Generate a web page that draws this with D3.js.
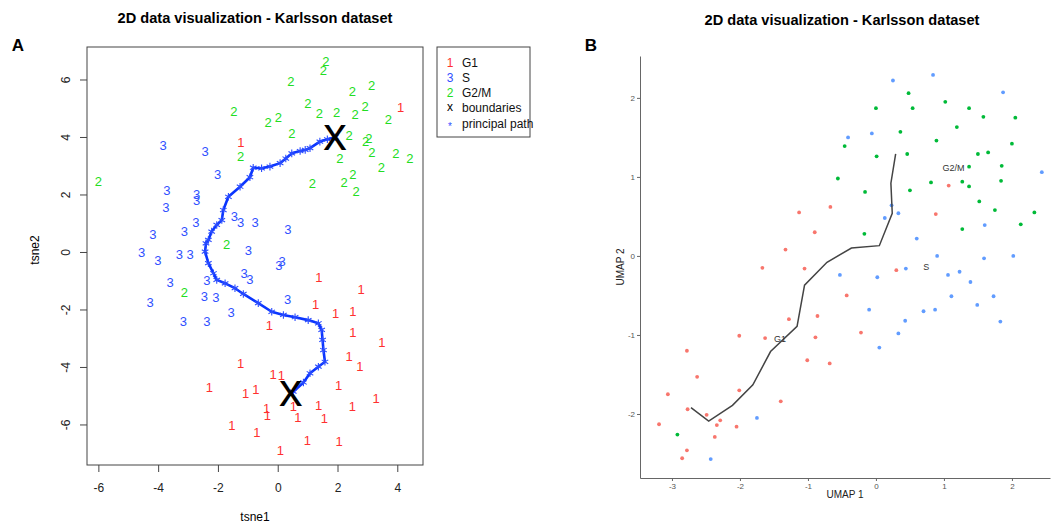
<!DOCTYPE html>
<html>
<head>
<meta charset="utf-8">
<script src="https://cdn.jsdelivr.net/npm/d3@7.9.0/dist/d3.min.js"></script>
<style>
  body { margin: 0; background: #fff; }
  svg { display: block; font-family: "Liberation Sans", Arial, sans-serif; }
</style>
</head>
<body>
<svg id="chart" width="1052" height="525"></svg>
<script>
// ---- panel A : t-SNE, labels are the cell-cycle phase codes ----
const tsneG1 = [
  [4.11, 5.03], [-1.23, 3.82], [1.38, -0.89], [2.79, -1.30], [1.27, -1.82], [1.94, -2.13],
  [2.51, -2.08], [-0.28, -2.54], [2.51, -2.79], [3.48, -3.14], [2.39, -3.64], [2.75, -3.99],
  [-1.24, -3.87], [-0.15, -4.24], [0.12, -4.30], [-2.29, -4.72], [-1.07, -4.92], [-0.73, -4.78],
  [2.04, -4.65], [3.29, -5.09], [-0.37, -5.44], [-0.35, -5.67], [0.52, -5.38], [1.37, -5.35],
  [2.50, -5.36], [0.67, -5.75], [1.56, -5.79], [-1.53, -6.02], [-0.70, -6.27], [0.99, -6.54],
  [2.05, -6.57], [0.09, -6.89]
];
const tsneS = [
  [-3.83, 3.72], [-2.43, 3.49], [-2.01, 2.71], [-3.71, 2.13], [-2.71, 2.02], [-2.71, 1.78],
  [-3.74, 1.55], [-2.74, 1.02], [-1.45, 1.23], [-1.24, 1.02], [-0.76, 1.02], [0.34, 0.79],
  [-3.12, 0.72], [-4.18, 0.63], [-4.55, -0.01], [-4.01, -0.30], [-3.29, -0.08], [-2.93, -0.08],
  [-0.98, 0.07], [0.04, -0.45], [0.15, -0.31], [-3.60, -1.07], [-2.37, -0.97], [-1.12, -0.74],
  [-0.93, -0.95], [-4.27, -1.75], [-2.45, -1.55], [-2.07, -1.59], [-1.56, -2.11], [0.33, -1.63],
  [-3.16, -2.40], [-2.37, -2.40]
];
const tsneG2M = [
  [1.61, 6.62], [1.53, 6.33], [0.44, 5.92], [3.14, 5.78], [2.50, 5.58], [1.01, 5.17],
  [1.39, 4.82], [1.97, 4.85], [2.59, 4.79], [2.92, 5.05], [3.70, 4.63], [-1.47, 4.88],
  [-0.32, 4.51], [0.02, 4.67], [0.47, 4.13], [2.39, 4.05], [2.94, 3.86], [3.05, 3.95],
  [3.15, 3.45], [3.95, 3.43], [4.42, 3.26], [2.08, 3.26], [3.47, 2.93], [2.51, 2.70],
  [2.22, 2.41], [2.62, 2.10], [1.16, 2.39], [-1.24, 3.31], [-6.00, 2.45], [-1.71, 0.28],
  [-3.12, -1.40]
];
const tsneBoundaries = [[1.92, 3.95], [0.44, -4.94]];
const tsnePath = [
  [1.92, 3.99], [1.66, 3.92], [1.41, 3.84], [1.08, 3.61], [0.92, 3.55], [0.75, 3.51],
  [0.47, 3.43], [0.27, 3.25], [0.08, 3.09], [-0.26, 2.97], [-0.54, 2.91], [-0.82, 2.93],
  [-0.93, 2.60], [-1.26, 2.27], [-1.65, 1.92], [-1.82, 1.46], [-1.87, 1.11], [-2.04, 0.94],
  [-2.21, 0.71], [-2.32, 0.42], [-2.40, 0.30], [-2.43, 0.01], [-2.32, -0.39], [-2.15, -0.74],
  [-2.04, -0.97], [-1.76, -1.09], [-1.43, -1.26], [-1.15, -1.46], [-0.65, -1.78], [-0.20, -2.08],
  [0.19, -2.19], [0.58, -2.27], [1.02, -2.37], [1.36, -2.48], [1.47, -2.71], [1.50, -3.06],
  [1.53, -3.41], [1.58, -3.82], [1.36, -3.99], [1.08, -4.22], [0.86, -4.54], [0.52, -4.86]
];
const tsneXTicks = [-6, -4, -2, 0, 2, 4];
const tsneYTicks = [-6, -4, -2, 0, 2, 4, 6];
const legendItems = [
  { sym: '1', label: 'G1', color: '#ff3030' },
  { sym: '3', label: 'S', color: '#3050ff' },
  { sym: '2', label: 'G2/M', color: '#22dd22' },
  { sym: 'x', label: 'boundaries', color: '#000' },
  { sym: '*', label: 'principal path', color: '#3050ff' }
];

// ---- panel B : UMAP ----
const umapG1 = [
  [-0.67, 0.62], [-1.13, 0.55], [-0.90, 0.30], [-1.33, 0.08], [-1.67, -0.15], [-1.05, -0.16],
  [1.07, 0.89], [0.88, 0.53], [0.30, -0.18], [-0.43, -0.50], [-0.22, -0.97], [-0.68, -1.36],
  [-1.28, -0.80], [-0.86, -0.76], [-2.01, -1.01], [-1.63, -1.04], [-0.89, -1.03], [-2.78, -1.20],
  [-1.01, -1.32], [-2.63, -1.53], [-2.01, -1.70], [-3.06, -1.75], [-1.40, -1.84], [-2.77, -1.94],
  [-2.49, -2.01], [-3.19, -2.13], [-2.29, -2.08], [-2.34, -2.14], [-2.05, -2.16], [-2.37, -2.29],
  [-2.78, -2.46], [-2.85, -2.56]
];
const umapS = [
  [0.25, 2.22], [0.84, 2.29], [1.87, 2.07], [-0.41, 1.50], [-0.06, 1.55], [2.44, 1.06],
  [0.23, 0.64], [0.33, 0.54], [0.13, 0.48], [1.60, 0.39], [0.60, 0.22], [0.90, 0.00],
  [1.59, -0.03], [2.02, 0.00], [0.44, -0.16], [-0.53, -0.24], [0.02, -0.27], [1.06, -0.24],
  [1.23, -0.20], [1.39, -0.33], [1.11, -0.51], [1.73, -0.51], [-0.10, -0.68], [0.70, -0.70],
  [0.87, -0.68], [1.49, -0.62], [0.43, -0.82], [1.83, -0.83], [0.33, -0.98], [0.05, -1.16],
  [-1.75, -2.05], [-2.43, -2.57]
];
const umapG2M = [
  [0.48, 2.06], [1.02, 1.95], [0.00, 1.87], [0.54, 1.87], [1.37, 1.87], [1.58, 1.76],
  [2.05, 1.75], [1.19, 1.63], [0.36, 1.57], [0.89, 1.46], [2.00, 1.42], [-0.46, 1.39],
  [0.01, 1.26], [0.46, 1.29], [1.50, 1.29], [1.65, 1.31], [1.37, 1.13], [1.85, 1.14],
  [-0.56, 0.98], [0.81, 0.93], [1.27, 0.94], [1.37, 0.88], [1.84, 0.95], [-0.16, 0.81],
  [0.50, 0.83], [1.52, 0.69], [1.75, 0.58], [2.33, 0.55], [2.13, 0.40], [1.27, 0.34],
  [-0.17, 0.28], [-2.92, -2.26]
];
const umapPath = [
  [-2.72, -1.92], [-2.46, -2.09], [-2.11, -1.89], [-1.81, -1.63], [-1.55, -1.21], [-1.16, -0.89],
  [-1.05, -0.37], [-0.72, -0.08], [-0.36, 0.10], [0.05, 0.13], [0.24, 0.54], [0.22, 0.92],
  [0.29, 1.29]
];
const umapLabels = [
  { text: 'G1', x: -1.41, y: -1.05 },
  { text: 'S', x: 0.74, y: -0.14 },
  { text: 'G2/M', x: 1.14, y: 1.11 }
];
const umapXTicks = [-3, -2, -1, 0, 1, 2];
const umapYTicks = [-2, -1, 0, 1, 2];
const umapColors = { G1: '#F8766D', S: '#619CFF', G2M: '#00BA38' };

const svg = d3.select('#chart');
const title = '2D data visualization - Karlsson dataset';
const plainNum = d => String(d); // hyphen minus, like R

function renderPanelA() {
  const left = 87, right = 423, top = 47, bottom = 465;
  const x = d3.scaleLinear().domain([-6.38, 4.86]).range([left, right]);
  const y = d3.scaleLinear().domain([-7.41, 7.13]).range([bottom, top]);

  svg.append('text').attr('x', 255).attr('y', 22.5).attr('text-anchor', 'middle')
    .style('font-size', '14.6px').style('font-weight', 'bold').text(title);
  svg.append('text').attr('x', 18).attr('y', 51).attr('text-anchor', 'middle')
    .style('font-size', '17px').style('font-weight', 'bold').text('A');

  const gx = svg.append('g')
    .attr('transform', `translate(0,${bottom})`)
    .call(d3.axisBottom(x).tickValues(tsneXTicks).tickFormat(plainNum)
      .tickSize(7).tickPadding(11).tickSizeOuter(0));
  gx.select('.domain').remove();
  gx.selectAll('text').style('font-size', '12px').attr('fill', '#222');
  gx.selectAll('line').attr('stroke', '#444');

  const gy = svg.append('g')
    .attr('transform', `translate(${left},0)`)
    .call(d3.axisLeft(y).tickValues(tsneYTicks).tickFormat(plainNum).tickSize(7).tickSizeOuter(0));
  gy.select('.domain').remove();
  gy.selectAll('line').attr('stroke', '#444');
  gy.selectAll('text')
    .attr('x', 0).attr('dy', '0.35em')
    .attr('text-anchor', 'middle')
    .attr('transform', 'translate(-21,0) rotate(-90)')
    .style('font-size', '12px').attr('fill', '#222');

  svg.append('rect')
    .attr('x', left).attr('y', top)
    .attr('width', right - left).attr('height', bottom - top)
    .attr('fill', 'none').attr('stroke', '#444');

  svg.append('text').attr('x', 255).attr('y', 521).attr('text-anchor', 'middle')
    .style('font-size', '12px').text('tsne1');
  svg.append('text').attr('transform', 'translate(39,250) rotate(-90)')
    .attr('text-anchor', 'middle').style('font-size', '12px').text('tsne2');

  const groups = [
    { data: tsneG1, sym: '1', color: legendItems[0].color },
    { data: tsneS, sym: '3', color: legendItems[1].color },
    { data: tsneG2M, sym: '2', color: legendItems[2].color }
  ];
  groups.forEach(g => {
    svg.append('g').selectAll('text')
      .data(g.data)
      .join('text')
      .attr('x', d => x(d[0]))
      .attr('y', d => y(d[1]))
      .attr('dy', '0.36em')
      .attr('text-anchor', 'middle')
      .attr('fill', g.color)
      .style('font-size', '13px')
      .text(g.sym);
  });

  const line = d3.line().x(d => x(d[0])).y(d => y(d[1]));
  svg.append('path')
    .datum(tsnePath)
    .attr('d', line)
    .attr('fill', 'none')
    .attr('stroke', '#0a35ff')
    .attr('stroke-width', 2.6)
    .attr('stroke-linejoin', 'round');

  svg.append('g').selectAll('path')
    .data(tsnePath)
    .join('path')
    .attr('transform', d => `translate(${x(d[0])},${y(d[1])})`)
    .attr('d', d3.symbol(d3.symbolAsterisk, 40))
    .attr('fill', 'none')
    .attr('stroke', '#2a4cff')
    .attr('stroke-width', 1.1);

  svg.append('g').selectAll('text')
    .data(tsneBoundaries)
    .join('text')
    .attr('x', d => x(d[0]))
    .attr('y', d => y(d[1]) + 12)
    .attr('text-anchor', 'middle')
    .style('font-size', '47px')
    .attr('fill', '#000')
    .text('x');

  // legend
  const lg = svg.append('g').attr('transform', 'translate(437,47)');
  lg.append('rect').attr('width', 93).attr('height', 90)
    .attr('fill', '#fff').attr('stroke', '#444');
  const rows = lg.selectAll('g.item').data(legendItems).join('g')
    .attr('class', 'item')
    .attr('transform', (d, i) => `translate(0,${15.5 + i * 15.2})`);
  rows.append('text').attr('x', 13).attr('dy', '0.36em').attr('text-anchor', 'middle')
    .attr('fill', d => d.color).style('font-size', d => d.sym === '*' ? '10px' : '12px')
    .attr('y', d => d.sym === '*' ? 3 : (d.sym === 'x' ? -1 : 0))
    .text(d => d.sym);
  rows.append('text').attr('x', 25).attr('dy', '0.36em')
    .style('font-size', '12px').attr('fill', '#111')
    .text(d => d.label);
}

function renderPanelB() {
  const left = 640, right = 1050, top = 56, bottom = 478;
  const x = d3.scaleLinear().domain([-3.47, 2.56]).range([left, right]);
  const y = d3.scaleLinear().domain([-2.81, 2.53]).range([bottom, top]);

  svg.append('text').attr('x', 842).attr('y', 25).attr('text-anchor', 'middle')
    .style('font-size', '14.6px').style('font-weight', 'bold').text(title);
  svg.append('text').attr('x', 591).attr('y', 51).attr('text-anchor', 'middle')
    .style('font-size', '17px').style('font-weight', 'bold').text('B');

  const gx = svg.append('g')
    .attr('transform', `translate(0,${bottom})`)
    .call(d3.axisBottom(x).tickValues(umapXTicks).tickFormat(plainNum)
      .tickSize(3).tickPadding(2).tickSizeOuter(0));
  gx.select('.domain').attr('stroke', '#666');
  gx.selectAll('line').attr('stroke', '#666');
  gx.selectAll('text').style('font-size', '8px').attr('fill', '#555');

  const gy = svg.append('g')
    .attr('transform', `translate(${left},0)`)
    .call(d3.axisLeft(y).tickValues(umapYTicks).tickFormat(plainNum)
      .tickSize(3).tickPadding(2).tickSizeOuter(0));
  gy.select('.domain').attr('stroke', '#666');
  gy.selectAll('line').attr('stroke', '#666');
  gy.selectAll('text').style('font-size', '8px').attr('fill', '#555');

  svg.append('text').attr('x', 845).attr('y', 498).attr('text-anchor', 'middle')
    .style('font-size', '10px').attr('fill', '#222').text('UMAP 1');
  svg.append('text').attr('transform', 'translate(624,267) rotate(-90)')
    .attr('text-anchor', 'middle').style('font-size', '10px').attr('fill', '#222').text('UMAP 2');

  const groups = [
    { data: umapG1, color: umapColors.G1 },
    { data: umapS, color: umapColors.S },
    { data: umapG2M, color: umapColors.G2M }
  ];
  groups.forEach(g => {
    svg.append('g').selectAll('circle')
      .data(g.data)
      .join('circle')
      .attr('cx', d => x(d[0]))
      .attr('cy', d => y(d[1]))
      .attr('r', 1.9)
      .attr('fill', g.color);
  });

  const line = d3.line().x(d => x(d[0])).y(d => y(d[1]));
  svg.append('path')
    .datum(umapPath)
    .attr('d', line)
    .attr('fill', 'none')
    .attr('stroke', '#444')
    .attr('stroke-width', 1.5);

  svg.append('g').selectAll('text')
    .data(umapLabels)
    .join('text')
    .attr('x', d => x(d.x))
    .attr('y', d => y(d.y))
    .attr('dy', '0.35em')
    .attr('text-anchor', 'middle')
    .style('font-size', '9px')
    .attr('fill', '#333')
    .text(d => d.text);
}

renderPanelA();
renderPanelB();
</script>
</body>
</html>
